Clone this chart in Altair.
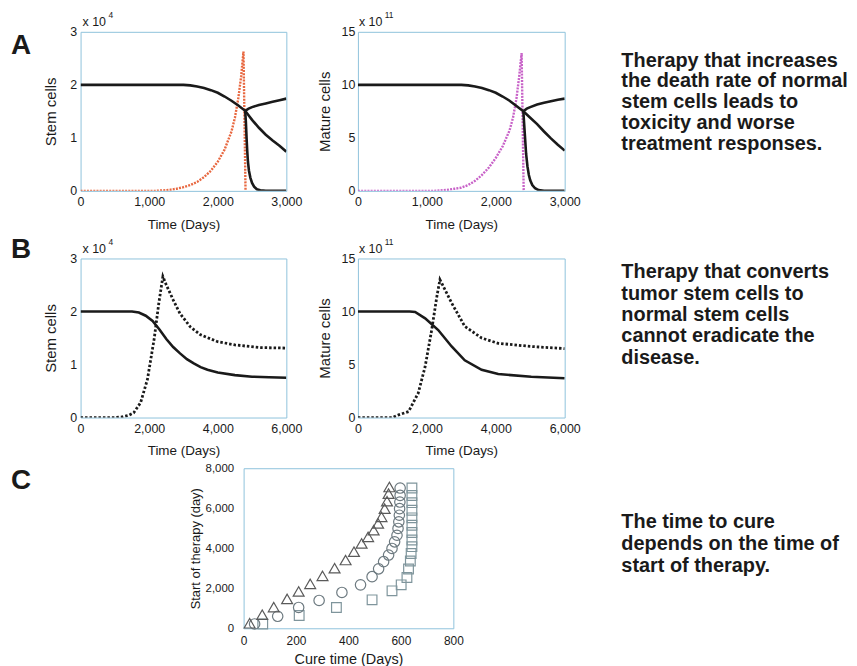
import altair as alt
import pandas as pd

FONT = "Liberation Sans"
BOX = "#8fc3dc"
INK = "#1a1a1a"
RED = "#e8673f"
MAG = "#c862c8"

# ---------------- Panel A (left): stem cells, units of 1e4 ----------------
a_norm_t = [0, 500, 1000, 1500, 1600, 1700, 1800, 1900, 2000, 2100, 2200, 2300, 2400, 2500, 2600, 2700, 2800, 2900, 3000]
a_norm_v = [2.0, 2.0, 2.0, 2.0, 1.99, 1.97, 1.94, 1.90, 1.85, 1.78, 1.70, 1.61, 1.51, 1.34, 1.19, 1.06, 0.95, 0.85, 0.74]
a_up_t = [2400, 2450, 2500, 2600, 2700, 2800, 2900, 3000]
a_up_v = [1.51, 1.55, 1.58, 1.62, 1.65, 1.68, 1.71, 1.74]
a_drop_t = [2400, 2410, 2420, 2430, 2440, 2455, 2475, 2500, 2530, 2570, 2620, 2700, 3000]
a_drop_v = [1.51, 1.30, 1.00, 0.75, 0.55, 0.38, 0.25, 0.15, 0.08, 0.03, 0.01, 0.0, 0.0]
a_tum_t = [0, 500, 1000, 1100, 1200, 1300, 1400, 1500, 1600, 1700, 1800, 1900, 2000, 2100, 2200, 2250, 2300, 2340, 2375, 2405]
a_tum_v = [0, 0, 0, 0, 0.01, 0.02, 0.04, 0.07, 0.11, 0.17, 0.26, 0.38, 0.55, 0.78, 1.12, 1.38, 1.75, 2.15, 2.63, 0.0]

# ---------------- Panel A (right): mature cells, units of 1e11 ----------------
am_norm_t = [0, 500, 1000, 1500, 1600, 1700, 1800, 1900, 2000, 2100, 2200, 2300, 2400, 2500, 2600, 2700, 2800, 2900, 3000]
am_norm_v = [10.0, 10.0, 10.0, 10.0, 9.95, 9.85, 9.7, 9.5, 9.25, 8.9, 8.5, 8.0, 7.5, 6.9, 6.3, 5.6, 4.95, 4.35, 3.8]
am_up_t = [2400, 2450, 2500, 2600, 2700, 2800, 2900, 3000]
am_up_v = [7.5, 7.75, 7.9, 8.15, 8.3, 8.45, 8.6, 8.7]
am_drop_t = [2400, 2420, 2440, 2460, 2480, 2500, 2530, 2570, 2620, 2700, 3000]
am_drop_v = [7.5, 5.5, 3.5, 2.3, 1.5, 1.0, 0.55, 0.25, 0.08, 0.0, 0.0]
am_tum_t = [0, 500, 1000, 1100, 1200, 1300, 1400, 1500, 1600, 1700, 1800, 1900, 2000, 2100, 2200, 2250, 2300, 2340, 2375, 2405]
am_tum_v = [0, 0, 0, 0, 0.05, 0.1, 0.2, 0.3, 0.55, 0.95, 1.5, 2.2, 3.1, 4.2, 5.7, 6.9, 8.7, 10.8, 13.0, 0.0]

# ---------------- Panel B (left): stem cells, units of 1e4 ----------------
b_norm_t = [0, 1500, 1700, 1900, 2100, 2300, 2500, 2700, 2900, 3100, 3300, 3500, 3700, 4000, 4500, 5000, 5500, 6000]
b_norm_v = [2.0, 2.0, 1.98, 1.92, 1.82, 1.66, 1.48, 1.33, 1.21, 1.10, 1.02, 0.95, 0.90, 0.85, 0.80, 0.77, 0.76, 0.75]
b_tum_t = [0, 1000, 1200, 1400, 1550, 1750, 1950, 2150, 2280, 2400, 2500, 2700, 2900, 3200, 3500, 4000, 4500, 5200, 6000]
b_tum_v = [0, 0, 0.01, 0.04, 0.09, 0.28, 0.72, 1.5, 2.15, 2.66, 2.5, 2.22, 1.96, 1.71, 1.56, 1.43, 1.37, 1.32, 1.31]

# ---------------- Panel B (right): mature cells, units of 1e11 ----------------
bm_norm_t = [0, 1500, 1660, 1950, 2330, 2720, 3100, 3590, 4070, 5030, 6000]
bm_norm_v = [10.0, 10.0, 9.95, 9.35, 8.25, 6.7, 5.4, 4.5, 4.1, 3.85, 3.7]
bm_tum_t = [0, 1000, 1180, 1470, 1750, 1950, 2140, 2290, 2380, 2720, 3100, 3590, 4070, 5030, 6000]
bm_tum_v = [0, 0, 0.25, 0.56, 2.3, 4.8, 8.25, 11.4, 13.0, 10.8, 8.6, 7.5, 7.0, 6.7, 6.5]

# ---------------- Panel C: cure time vs start of therapy ----------------
tri_x = [23, 71, 115, 166, 210, 254, 301, 347, 389, 421, 450, 475, 496, 513, 526, 538, 547, 553, 556]
tri_y = [250, 680, 1060, 1470, 1840, 2220, 2620, 3000, 3410, 3830, 4240, 4570, 4900, 5240, 5570, 5980, 6350, 6730, 7060]
cir_x = [42, 130, 210, 288, 375, 446, 490, 515, 534, 553, 566, 576, 585, 589, 592, 594, 595, 596, 597, 597]
cir_y = [215, 600, 1040, 1390, 1790, 2170, 2580, 2970, 3330, 3660, 3990, 4320, 4650, 4990, 5320, 5650, 5980, 6310, 6640, 7010]
sq_x = [73, 212, 354, 490, 566, 601, 623, 629, 636, 639, 642, 642, 642, 642, 642, 642, 642, 642, 642]
sq_y = [215, 640, 1040, 1420, 1870, 2170, 2540, 2960, 3360, 3740, 4080, 4410, 4790, 5150, 5520, 5900, 6280, 6640, 7010]

# ---------------- Text ----------------
text_a = ["Therapy that increases", "the death rate of normal", "stem cells leads to",
          "toxicity and worse", "treatment responses."]
text_b = ["Therapy that converts", "tumor stem cells to", "normal stem cells",
          "cannot eradicate the", "disease."]
text_c = ["The time to cure", "depends on the time of", "start of therapy."]

x_ticks_a = [0, 1000, 2000, 3000]
x_ticks_b = [0, 2000, 4000, 6000]
y_ticks_stem = [0, 1, 2, 3]
y_ticks_mat = [0, 5, 10, 15]
x_ticks_c = [0, 200, 400, 600, 800]
y_ticks_c = [0, 2000, 4000, 6000, 8000]

PARA = 20


def note(text, x, y, size, weight="normal", line_height=None):
    kw = dict(text=text, fontSize=size, fontWeight=weight, align="left",
              baseline="alphabetic", font=FONT, color=INK)
    if line_height:
        kw["lineHeight"] = line_height
    return alt.Chart(pd.DataFrame({"k": [0]})).mark_text(**kw).encode(
        x=alt.value(x), y=alt.value(y))


def xaxis(vals, title, lp=5, tp=9, lfs=12.5, tfs=13.5):
    return alt.Axis(values=vals, format=",d", title=title, labelPadding=lp,
                    titlePadding=tp, labelFontSize=lfs, titleFontSize=tfs)


def yaxis(vals, title, lp=4, tp=11, lfs=12.5, tfs=15, fmt="d"):
    return alt.Axis(values=vals, format=fmt, title=title, labelPadding=lp,
                    titlePadding=tp, labelFontSize=lfs, titleFontSize=tfs)


def line(t, v, xs, ys, xa, ya, color, dash=None, width=2.6):
    kw = dict(color=color, strokeWidth=width, clip=True)
    if dash:
        kw["strokeDash"] = dash
    df = pd.DataFrame({"t": t, "v": v})
    return alt.Chart(df).mark_line(**kw).encode(
        x=alt.X("t:Q", scale=xs, axis=xa),
        y=alt.Y("v:Q", scale=ys, axis=ya),
    )


# ---- A left
xs = alt.Scale(domain=[0, 3000], nice=False)
ys = alt.Scale(domain=[0, 3], nice=False)
xa = xaxis(x_ticks_a, "Time (Days)")
ya = yaxis(y_ticks_stem, "Stem cells")
A_left = alt.layer(
    line(a_tum_t, a_tum_v, xs, ys, xa, ya, RED, dash=[2, 1.2], width=2.4),
    line(a_norm_t, a_norm_v, xs, ys, xa, ya, INK),
    line(a_up_t, a_up_v, xs, ys, xa, ya, INK),
    line(a_drop_t, a_drop_v, xs, ys, xa, ya, INK),
    note("A", -70, 22, 28, "bold"),
    note("x 10", 2, -6, 12.5),
    note("4", 28, -14, 8.5),
).properties(width=207, height=160)

# ---- A right
ys2 = alt.Scale(domain=[0, 15], nice=False)
ya2 = yaxis(y_ticks_mat, "Mature cells", lp=3, tp=9)
A_right = alt.layer(
    line(am_tum_t, am_tum_v, xs, ys2, xa, ya2, MAG, dash=[2, 1.2], width=2.4),
    line(am_norm_t, am_norm_v, xs, ys2, xa, ya2, INK),
    line(am_up_t, am_up_v, xs, ys2, xa, ya2, INK),
    line(am_drop_t, am_drop_v, xs, ys2, xa, ya2, INK),
    note("x 10", 1, -6, 12.5),
    note("11", 27, -14, 8.5),
    note(text_a, 265, 35, PARA, "bold", line_height=21),
).properties(width=208, height=160)

# ---- B left
xsb = alt.Scale(domain=[0, 6000], nice=False)
xab = xaxis(x_ticks_b, "Time (Days)")
B_left = alt.layer(
    line(b_tum_t, b_tum_v, xsb, ys, xab, ya, INK, dash=[2.5, 2], width=2.8),
    line(b_norm_t, b_norm_v, xsb, ys, xab, ya, INK),
    note("B", -70, 0, 28, "bold"),
    note("x 10", 2, -6, 12.5),
    note("4", 28, -14, 8.5),
).properties(width=207, height=160)

# ---- B right
B_right = alt.layer(
    line(bm_tum_t, bm_tum_v, xsb, ys2, xab, ya2, INK, dash=[2.5, 2], width=2.8),
    line(bm_norm_t, bm_norm_v, xsb, ys2, xab, ya2, INK),
    note("x 10", 1, -6, 12.5),
    note("11", 27, -14, 8.5),
    note(text_b, 265, 20, PARA, "bold", line_height=21.5),
).properties(width=208, height=160)

# ---- C
xsc = alt.Scale(domain=[0, 800], nice=False)
ysc = alt.Scale(domain=[0, 8000], nice=False)
xac = xaxis(x_ticks_c, "Cure time (Days)", lp=7, tp=6, lfs=12, tfs=14.5)
yac = yaxis(y_ticks_c, "Start of therapy (day)", lp=10, tp=3, lfs=11.5, tfs=13, fmt=",d")


def pts(xv, yv, shape, color, size):
    df = pd.DataFrame({"x": xv, "y": yv})
    return alt.Chart(df).mark_point(shape=shape, filled=False, size=size,
                                    strokeWidth=1.2, color=color, opacity=1).encode(
        x=alt.X("x:Q", scale=xsc, axis=xac),
        y=alt.Y("y:Q", scale=ysc, axis=yac),
    )


C_panel = alt.layer(
    pts(sq_x, sq_y, "square", "#7f959c", 95),
    pts(cir_x, cir_y, "circle", "#6d7a80", 110),
    pts(tri_x, tri_y, "triangle-up", "#5a5a5a", 120),
    note(text_c, 380, 60, PARA, "bold", line_height=22),
).properties(width=211, height=161)

spacer = note("C", -70, 21, 28, "bold").properties(
    width=92, height=161, view=alt.ViewBackground(strokeOpacity=0))

rowA = alt.hconcat(A_left, A_right, spacing=72, bounds="flush")
rowB = alt.hconcat(B_left, B_right, spacing=72, bounds="flush")
rowC = alt.hconcat(spacer, C_panel, spacing=72, bounds="flush")
top = alt.vconcat(rowA, rowB, spacing=4)

chart = alt.vconcat(top, rowC, spacing=3).properties(
    padding={"left": 2, "top": 0, "right": 0, "bottom": 0}
).configure_view(
    stroke=BOX, strokeWidth=1
).configure_axis(
    domain=False, ticks=False, tickSize=0, grid=False, labelFlush=False,
    labelFont=FONT, titleFont=FONT, labelColor=INK, titleColor=INK,
    titleFontWeight="normal"
)

chart.save("out.html", embed_options={"renderer": "svg", "actions": False})
